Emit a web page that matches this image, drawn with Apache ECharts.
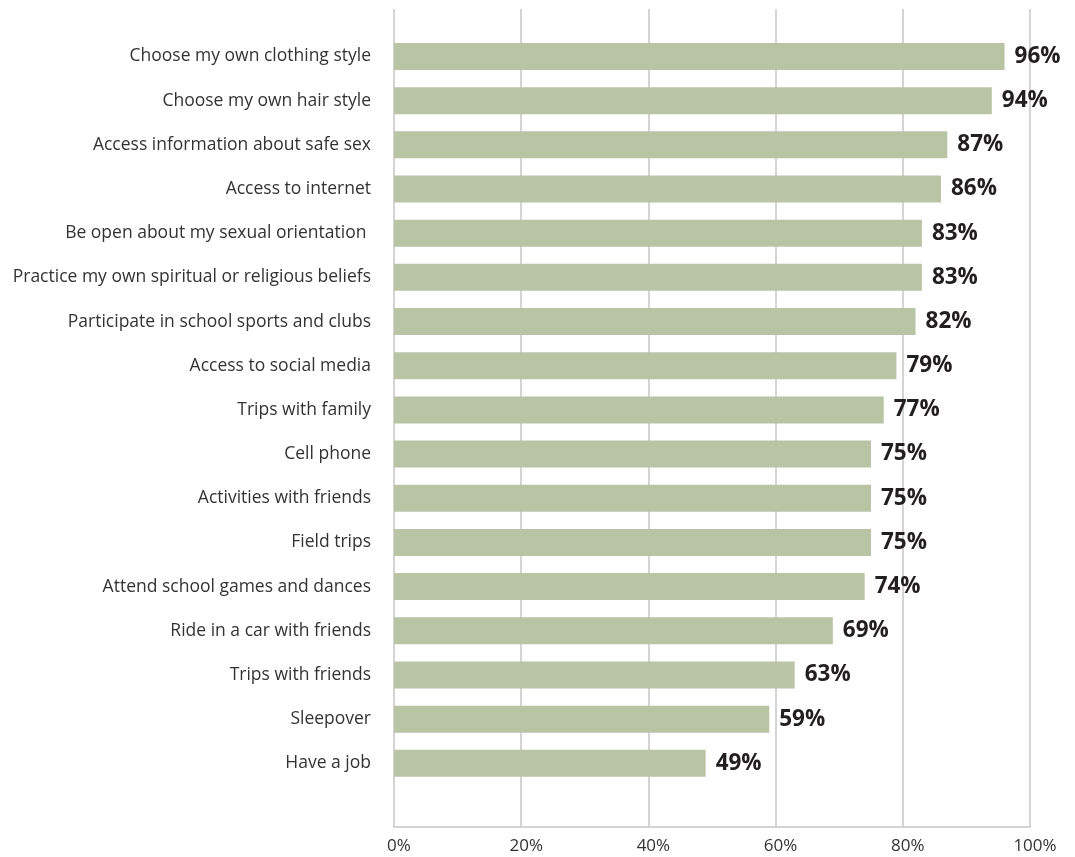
<!DOCTYPE html>
<html>
<head>
<meta charset="utf-8">
<script src="https://cdn.jsdelivr.net/npm/echarts@6/dist/echarts.min.js"></script>
<style>
  html, body { margin: 0; padding: 0; background: #ffffff; }
  #chart { width: 1075px; height: 857px; }
</style>
</head>
<body>
<div id="chart"></div>
<script>
// Activities and shares of respondents, top to bottom
const categories = [
  'Choose my own clothing style',
  'Choose my own hair style',
  'Access information about safe sex',
  'Access to internet',
  'Be open about my sexual orientation ',
  'Practice my own spiritual or religious beliefs',
  'Participate in school sports and clubs',
  'Access to social media',
  'Trips with family',
  'Cell phone',
  'Activities with friends',
  'Field trips',
  'Attend school games and dances',
  'Ride in a car with friends',
  'Trips with friends',
  'Sleepover',
  'Have a job'
];
const values = [96, 94, 87, 86, 83, 83, 82, 79, 77, 75, 75, 75, 74, 69, 63, 59, 49];
const axisMin = 0;
const axisMax = 100;
const axisStep = 20;

const FONT = '"Open Sans", "Liberation Sans", sans-serif';
const chart = echarts.init(document.getElementById('chart'), null, { renderer: 'canvas' });

chart.setOption({
  animation: false,
  backgroundColor: '#ffffff',
  grid: [
    // frame with the percentage gridlines
    { left: 394, right: 45, top: 9, bottom: 30, containLabel: false },
    // band area holding the bars
    { left: 394, right: 45, top: 34.4, bottom: 71.6, containLabel: false }
  ],
  xAxis: [
    {
      gridIndex: 0,
      type: 'value',
      min: axisMin,
      max: axisMax,
      interval: axisStep,
      axisLine: { show: true, lineStyle: { color: '#c6c6c6', width: 1.5 } },
      axisTick: { show: false },
      splitLine: { show: true, lineStyle: { color: '#c6c6c6', width: 1.5 } },
      axisLabel: {
        formatter: '{value}%',
        color: '#333333',
        fontFamily: FONT,
        fontSize: 17,
        margin: 11,
        padding: [0, 0, 0, 10]
      }
    },
    {
      gridIndex: 1,
      type: 'value',
      min: axisMin,
      max: axisMax,
      show: false
    }
  ],
  yAxis: [
    {
      gridIndex: 0,
      type: 'value',
      show: false
    },
    {
      gridIndex: 1,
      type: 'category',
      inverse: true,
      data: categories,
      axisLine: { show: false },
      axisTick: { show: false },
      splitLine: { show: false },
      axisLabel: {
        color: '#333333',
        fontFamily: FONT,
        fontSize: 17.5,
        margin: 23,
        verticalAlign: 'middle',
        padding: [0, 0, 8, 0]
      }
    }
  ],
  series: [
    {
      type: 'bar',
      xAxisIndex: 1,
      yAxisIndex: 1,
      data: values,
      barWidth: 27,
      itemStyle: { color: '#b8c4a4' },
      label: {
        show: true,
        position: 'right',
        distance: 10,
        formatter: '{c}%',
        color: '#231f20',
        fontFamily: FONT,
        fontWeight: 'bold',
        fontSize: 22.5
      }
    }
  ]
});
</script>
</body>
</html>
